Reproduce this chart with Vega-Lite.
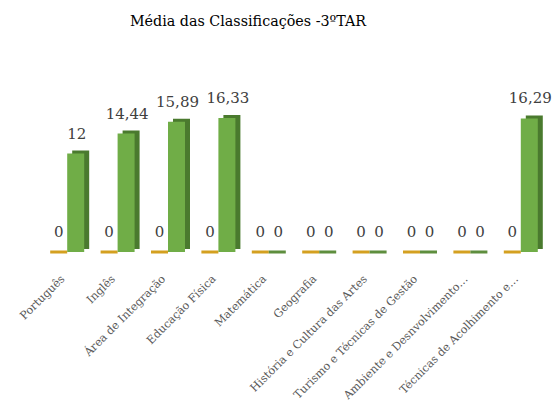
{
  "$schema": "https://vega.github.io/schema/vega-lite/v6.json",
  "autosize": {"type": "none"},
  "width": 504,
  "height": 164,
  "padding": {"left": 42, "top": 88, "right": 7, "bottom": 155},
  "background": "white",
  "config": {
    "view": {"stroke": null}
  },
  "title": {
    "text": "Média das Classificações -3ºTAR",
    "font": "DejaVu Serif",
    "fontSize": 14.3,
    "fontWeight": "normal",
    "color": "#000000",
    "anchor": "middle",
    "dx": -46,
    "offset": 59
  },
  "data": {
    "values": [
      {"disciplina": "Português", "serie": "A", "valor": 0, "rotulo": "0"},
      {"disciplina": "Português", "serie": "B", "valor": 12, "rotulo": "12"},
      {"disciplina": "Inglês", "serie": "A", "valor": 0, "rotulo": "0"},
      {"disciplina": "Inglês", "serie": "B", "valor": 14.44, "rotulo": "14,44"},
      {"disciplina": "Área de Integração", "serie": "A", "valor": 0, "rotulo": "0"},
      {"disciplina": "Área de Integração", "serie": "B", "valor": 15.89, "rotulo": "15,89"},
      {"disciplina": "Educação Física", "serie": "A", "valor": 0, "rotulo": "0"},
      {"disciplina": "Educação Física", "serie": "B", "valor": 16.33, "rotulo": "16,33"},
      {"disciplina": "Matemática", "serie": "A", "valor": 0, "rotulo": "0"},
      {"disciplina": "Matemática", "serie": "B", "valor": 0, "rotulo": "0"},
      {"disciplina": "Geografia", "serie": "A", "valor": 0, "rotulo": "0"},
      {"disciplina": "Geografia", "serie": "B", "valor": 0, "rotulo": "0"},
      {"disciplina": "História e Cultura das Artes", "serie": "A", "valor": 0, "rotulo": "0"},
      {"disciplina": "História e Cultura das Artes", "serie": "B", "valor": 0, "rotulo": "0"},
      {"disciplina": "Turismo e Técnicas de Gestão", "serie": "A", "valor": 0, "rotulo": "0"},
      {"disciplina": "Turismo e Técnicas de Gestão", "serie": "B", "valor": 0, "rotulo": "0"},
      {"disciplina": "Ambiente e Desnvolvimento…", "serie": "A", "valor": 0, "rotulo": "0"},
      {"disciplina": "Ambiente e Desnvolvimento…", "serie": "B", "valor": 0, "rotulo": "0"},
      {"disciplina": "Técnicas de Acolhimento e…", "serie": "A", "valor": 0, "rotulo": "0"},
      {"disciplina": "Técnicas de Acolhimento e…", "serie": "B", "valor": 16.29, "rotulo": "16,29"}
    ]
  },
  "encoding": {
    "x": {
      "field": "disciplina",
      "type": "nominal",
      "sort": ["Português", "Inglês", "Área de Integração", "Educação Física", "Matemática", "Geografia", "História e Cultura das Artes", "Turismo e Técnicas de Gestão", "Ambiente e Desnvolvimento…", "Técnicas de Acolhimento e…"],
      "scale": {"paddingInner": 0.32, "paddingOuter": 0.16},
      "axis": {
        "title": null,
        "labelAngle": -45,
        "labelAlign": "right",
        "labelBaseline": "middle",
        "labelFont": "DejaVu Serif",
        "labelFontSize": 11.2,
        "labelColor": "#595959",
        "labelPadding": 25,
        "labelOffset": -4,
        "labelLimit": 300,
        "ticks": false,
        "domain": false,
        "grid": false
      }
    },
    "y": {
      "field": "valor",
      "type": "quantitative",
      "scale": {"domain": [0, 20]},
      "axis": null
    }
  },
  "layer": [
    {
      "transform": [{"filter": "datum.serie == 'A'"}],
      "mark": {"type": "bar", "width": 17, "xOffset": -8.5, "color": "#D4A020", "stroke": "#D4A020", "strokeWidth": 3},
      "encoding": {}
    },
    {
      "transform": [{"filter": "datum.serie == 'B' && datum.valor > 0"}],
      "mark": {"type": "bar", "width": 17, "xOffset": 13.5, "yOffset": -3, "color": "#4A7A2E"},
      "encoding": {}
    },
    {
      "transform": [{"filter": "datum.serie == 'B'"}],
      "mark": {"type": "bar", "width": 17, "xOffset": 8.5, "color": "#70AD47", "stroke": "#5E8E3E"},
      "encoding": {
        "strokeWidth": {
          "condition": {"test": "datum.valor > 0", "value": 0},
          "value": 3
        }
      }
    },
    {
      "transform": [{"filter": "datum.serie == 'A'"}],
      "mark": {
        "type": "text",
        "font": "DejaVu Serif",
        "fontSize": 15,
        "color": "#404040",
        "baseline": "alphabetic",
        "dx": -8.5,
        "dy": -15
      },
      "encoding": {"text": {"field": "rotulo"}}
    },
    {
      "transform": [{"filter": "datum.serie == 'B'"}],
      "mark": {
        "type": "text",
        "font": "DejaVu Serif",
        "fontSize": 15,
        "color": "#404040",
        "baseline": "alphabetic",
        "dx": 9.5,
        "dy": -15
      },
      "encoding": {"text": {"field": "rotulo"}}
    }
  ]
}
